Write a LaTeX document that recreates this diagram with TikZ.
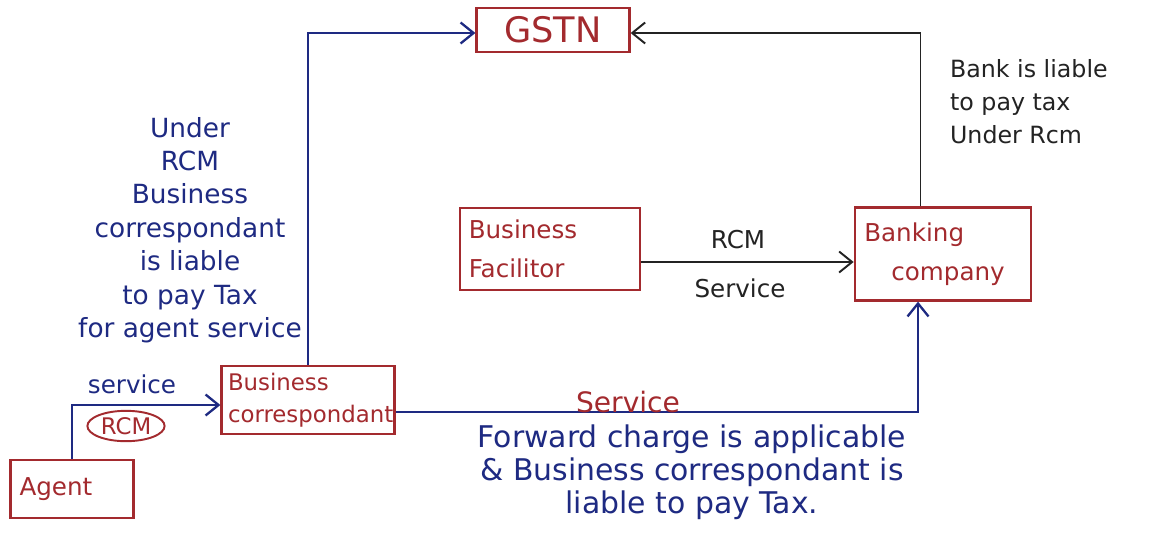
\documentclass[tikz,border=0pt]{standalone}
\usepackage{fontspec}
\setmainfont{DejaVu Sans}
\usetikzlibrary{arrows.meta,shapes.geometric}
\definecolor{boxred}{HTML}{A32A2E}
\definecolor{inkblue}{HTML}{1E2A82}
\definecolor{ink}{HTML}{232323}
\tikzset{
  box/.style={draw=boxred, line width=1.3pt, text=boxred, align=left,
    inner sep=4pt, font=\fontsize{14}{22}\selectfont},
  blueline/.style={draw=inkblue, line width=1.3pt, -{Straight Barb[length=2.6mm,width=4.2mm]}},
  blackline/.style={draw=ink, line width=1.1pt, -{Straight Barb[length=2.6mm,width=4.2mm]}},
  bluetext/.style={text=inkblue, font=\fontsize{15}{19}\selectfont, inner sep=1pt},
  blacktext/.style={text=ink, font=\fontsize{14}{18}\selectfont, inner sep=1pt},
  redtext/.style={text=boxred, font=\fontsize{13}{16.5}\selectfont, inner sep=1pt},
}

\begin{document}
\begin{tikzpicture}[x=0.02cm, y=-0.02cm]
\path[use as bounding box, fill=white] (0,0) rectangle (1151,555);

% boxes
\node[box, font=\fontsize{20}{22}\selectfont, minimum width=3.06cm, minimum height=0.88cm] (gstn) at (553,30) {GSTN};
\node[box, text width=3.25cm, minimum height=1.64cm, inner xsep=0.17cm] (bf) at (550,249) {Business\\Facilitor};
\node[box, text width=3.15cm, minimum height=1.86cm, inner xsep=0.19cm] (bank) at (943,254) {Banking\\\hspace*{1.1em}company};
\node[box, text width=3.2cm, minimum height=1.28cm, inner xsep=0.13cm, font=\fontsize{13}{18}\selectfont] (bc) at (308,400) {Business\\correspondant};
\node[box, text width=2.1cm, minimum height=1.16cm, inner xsep=0.18cm] (agent) at (72,489) {Agent};

% connectors
\draw[blueline] (bc.north) |- ([yshift=-0.06cm]gstn.west);
\draw[blackline] ([xshift=-0.45cm]bank.north) |- ([yshift=-0.06cm]gstn.east);
\draw[blackline] ([yshift=-0.26cm]bf.east) -- ([yshift=-0.26cm]bf.east -| bank.west);
\draw[blueline] ([yshift=-0.24cm]bc.east) -| ([xshift=-0.5cm]bank.south);
\draw[blueline] (agent.north) |- ([yshift=-0.1cm]bc.west);

% labels
\node[bluetext, align=center] (bcnote) at (190,230)
  {Under\\RCM\\Business\\correspondant\\is liable\\to pay Tax\\for agent service};
\node[blacktext, font=\fontsize{13.5}{19}\selectfont, align=left, anchor=north west] (banknote) at (948,57)
  {Bank is liable\\to pay tax\\Under Rcm};
\node[blacktext] (rcmtop) at (738,240) {RCM};
\node[blacktext] (bfservice) at (740,288) {Service};
\node[bluetext, font=\fontsize{14}{18}\selectfont] (agservice) at (132,384) {service};
\node[redtext, draw=boxred, ellipse, line width=1.1pt, inner sep=1.2pt] (agrcm) at (126,426) {RCM};
\node[redtext, font=\fontsize{16}{18}\selectfont] (bcservice) at (628,402) {Service};
\node[bluetext, font=\fontsize{17}{18.8}\selectfont, align=center] (fcnote) at (692,472)
  {Forward charge is applicable\\\& Business correspondant is\\liable to pay Tax.};
\end{tikzpicture}
\end{document}
